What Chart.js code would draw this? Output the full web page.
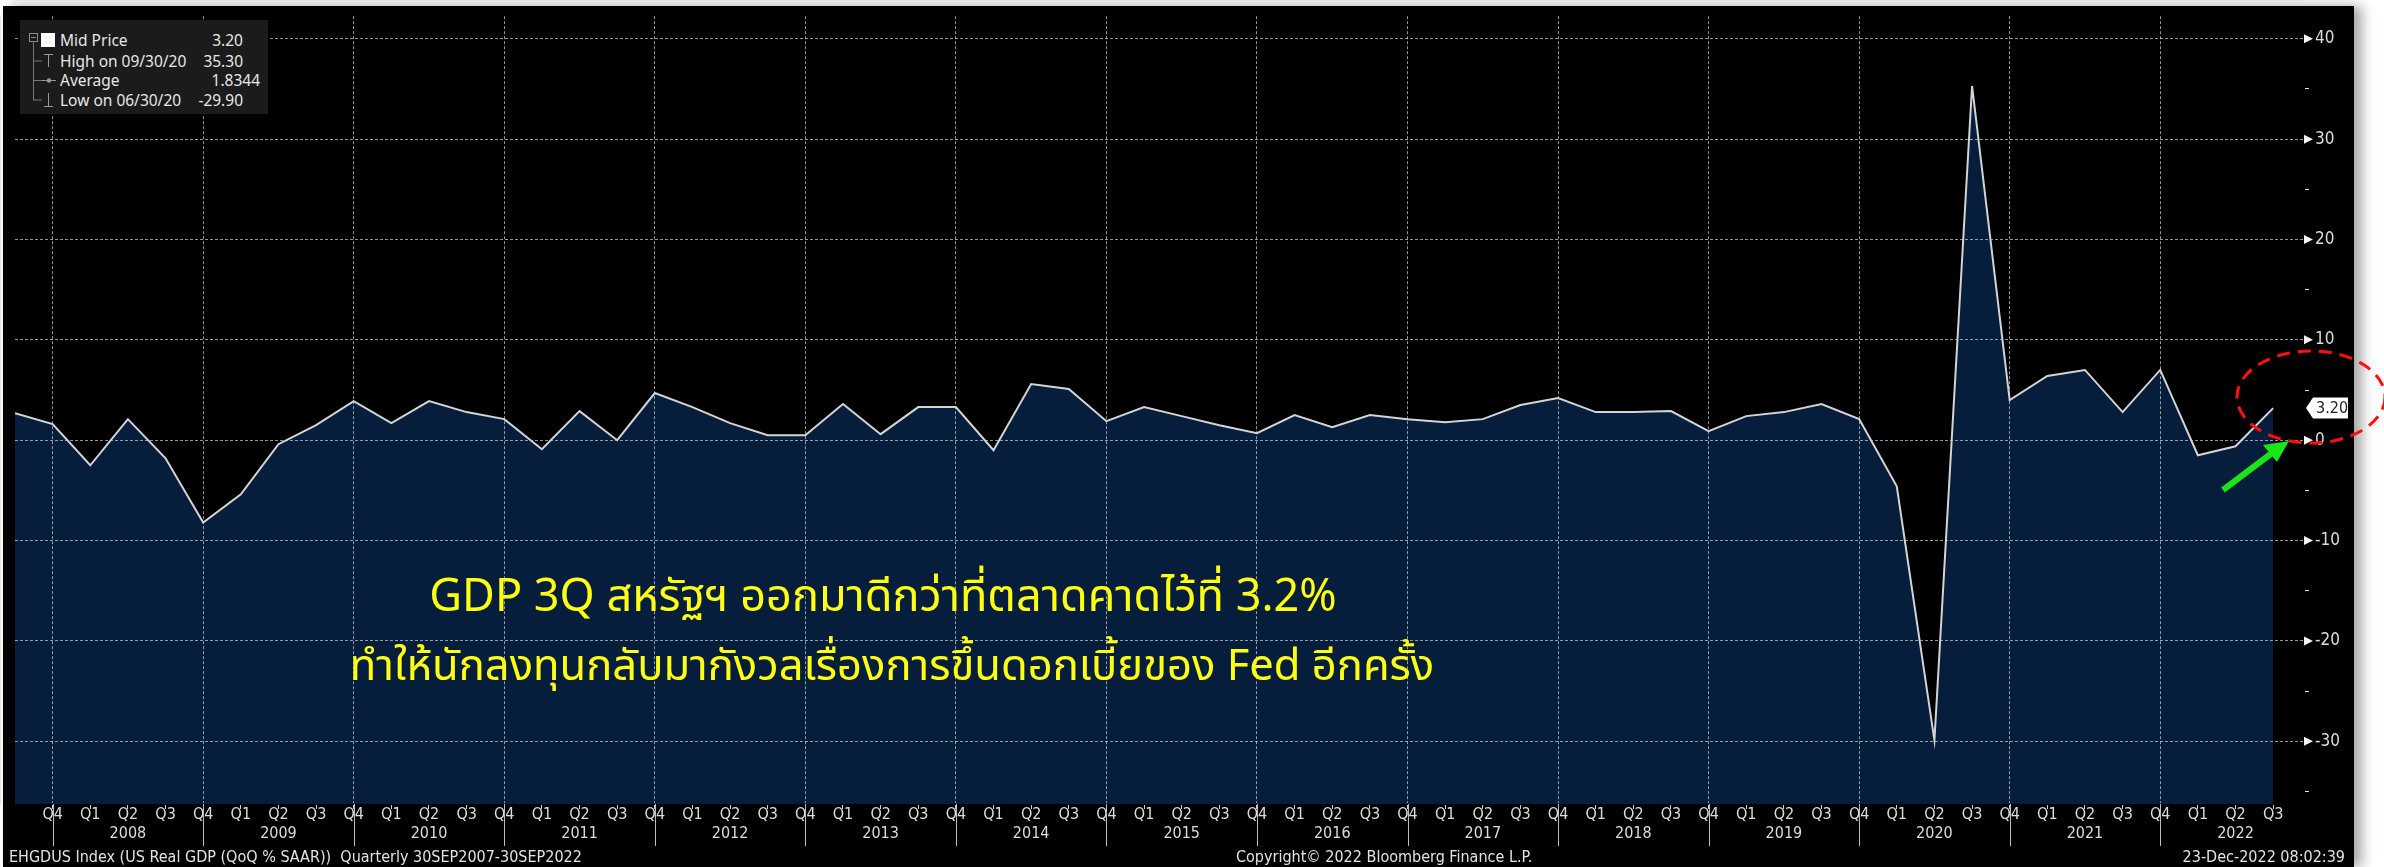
<!DOCTYPE html>
<html>
<head>
<meta charset="utf-8">
<script src="https://cdn.jsdelivr.net/npm/chart.js@4.4.0/dist/chart.umd.min.js"></script>
<style>
    html, body { margin: 0; padding: 0; width: 2384px; height: 867px; overflow: hidden; background: #fff; }
    #panel { position: absolute; left: 3px; top: 6px; width: 2351px; height: 861px; background: #000;
             box-shadow: 8px 0 12px rgba(0,0,0,0.35); }
    #c { position: absolute; left: 0; top: 0; }
    .narrow { font-family: "Liberation Sans Narrow", "DejaVu Sans Condensed", sans-serif; }
    .txt { position: absolute; white-space: pre; color: #e2e2e2; line-height: 1; }
    #legend { position: absolute; left: 20px; top: 20px; width: 248px; height: 94px; background: #1b1b1b; }
    #legend span { position: absolute; font-family: "Noto Sans", sans-serif; font-size: 15.5px; color: #e6e6e6;
                   line-height: 20px; white-space: pre; }
    .note { position: absolute; color: #ffff14; line-height: 1; white-space: pre;
            font-family: "Noto Sans Thai", "Noto Sans Thai UI", "Noto Sans", sans-serif; transform: translate(-50%, -50%); }
    #marks { position: absolute; left: 0; top: 0; }
</style>
</head>
<body>
<div id="panel"></div>
<canvas id="c" width="2384" height="867"></canvas>

<div id="legend">
    <svg width="248" height="94" style="position:absolute;left:0;top:0">
        <rect x="9.5" y="13.5" width="8" height="8" fill="none" stroke="#888" />
        <line x1="11" y1="17.5" x2="16" y2="17.5" stroke="#888" />
        <line x1="13.5" y1="22" x2="13.5" y2="80" stroke="#777" />
        <line x1="13.5" y1="41" x2="22" y2="41" stroke="#777" />
        <line x1="13.5" y1="60.5" x2="22" y2="60.5" stroke="#777" />
        <line x1="13.5" y1="80" x2="22" y2="80" stroke="#777" />
        <rect x="21" y="13" width="14" height="14" fill="#fff" />
        <line x1="24" y1="34.5" x2="33" y2="34.5" stroke="#999" />
        <line x1="28.5" y1="34.5" x2="28.5" y2="47" stroke="#999" />
        <line x1="22" y1="60.5" x2="36" y2="60.5" stroke="#999" />
        <circle cx="29" cy="60.5" r="2.2" fill="#999" />
        <line x1="28.5" y1="73" x2="28.5" y2="86" stroke="#999" />
        <line x1="24" y1="86.5" x2="33" y2="86.5" stroke="#999" />
    </svg>
    <span style="left:40px;top:10px">Mid Price</span>
    <span style="right:25px;top:10px">3.20</span>
    <span style="left:40px;top:31px">High on 09/30/20</span>
    <span style="right:25px;top:31px">35.30</span>
    <span style="left:40px;top:50px">Average</span>
    <span style="right:8px;top:50px">1.8344</span>
    <span style="left:40px;top:70px">Low on 06/30/20</span>
    <span style="right:25px;top:70px">-29.90</span>
</div>

<div class="note" style="left:883px;top:597px;font-size:45px">GDP 3Q สหรัฐฯ ออกมาดีกว่าที่ตลาดคาดไว้ที่ 3.2%</div>
<div class="note" style="left:892px;top:668px;font-size:43.5px">ทำให้นักลงทุนกลับมากังวลเรื่องการขึ้นดอกเบี้ยของ Fed อีกครั้ง</div>

<div class="txt narrow" style="left:9px;top:849px;font-size:16px">EHGDUS Index (US Real GDP (QoQ % SAAR))  Quarterly 30SEP2007-30SEP2022</div>
<div class="txt narrow" style="left:1236px;top:849px;font-size:16px">Copyright© 2022 Bloomberg Finance L.P.</div>
<div class="txt narrow" style="right:39px;top:849px;font-size:16px">23-Dec-2022 08:02:39</div>

<svg id="marks" width="2384" height="867">
    <ellipse cx="2311" cy="397" rx="74" ry="46" fill="none" stroke="#ff1010" stroke-width="3" stroke-dasharray="13 8" />
    <line x1="2223" y1="490" x2="2272" y2="453" stroke="#19e619" stroke-width="6" />
    <polygon points="2289,441 2263,445 2277,462" fill="#19e619" />
</svg>

<script>
// quarterly periods, 30SEP2007 - 30SEP2022
const periods = [
    'Q3 2007', 'Q4 2007',
    'Q1 2008', 'Q2 2008', 'Q3 2008', 'Q4 2008',
    'Q1 2009', 'Q2 2009', 'Q3 2009', 'Q4 2009',
    'Q1 2010', 'Q2 2010', 'Q3 2010', 'Q4 2010',
    'Q1 2011', 'Q2 2011', 'Q3 2011', 'Q4 2011',
    'Q1 2012', 'Q2 2012', 'Q3 2012', 'Q4 2012',
    'Q1 2013', 'Q2 2013', 'Q3 2013', 'Q4 2013',
    'Q1 2014', 'Q2 2014', 'Q3 2014', 'Q4 2014',
    'Q1 2015', 'Q2 2015', 'Q3 2015', 'Q4 2015',
    'Q1 2016', 'Q2 2016', 'Q3 2016', 'Q4 2016',
    'Q1 2017', 'Q2 2017', 'Q3 2017', 'Q4 2017',
    'Q1 2018', 'Q2 2018', 'Q3 2018', 'Q4 2018',
    'Q1 2019', 'Q2 2019', 'Q3 2019', 'Q4 2019',
    'Q1 2020', 'Q2 2020', 'Q3 2020', 'Q4 2020',
    'Q1 2021', 'Q2 2021', 'Q3 2021', 'Q4 2021',
    'Q1 2022', 'Q2 2022', 'Q3 2022'
];

// US Real GDP QoQ % SAAR
const gdpValues = [
    2.7, 1.6,
    -2.5, 2.1, -1.8, -8.2,
    -5.4, -0.4, 1.5, 3.9,
    1.7, 3.9, 2.8, 2.1,
    -0.9, 2.9, 0.0, 4.7,
    3.3, 1.7, 0.5, 0.5,
    3.6, 0.6, 3.3, 3.3,
    -1.0, 5.6, 5.1, 1.9,
    3.3, 2.4, 1.5, 0.7,
    2.5, 1.3, 2.5, 2.1,
    1.8, 2.1, 3.5, 4.2,
    2.8, 2.8, 2.9, 0.9,
    2.4, 2.8, 3.6, 2.1,
    -4.6, -29.9, 35.3, 4.0,
    6.4, 7.0, 2.8, 7.0,
    -1.5, -0.6, 3.2
];

// right axis ticks (labels every 10, small marks every 5)
const yTicks = [-35, -30, -25, -20, -15, -10, -5, 0, 5, 10, 15, 20, 25, 30, 35, 40];
const yMin = -36.25;
const yMax = 42.25;

const narrowFont = '"Liberation Sans Narrow", "DejaVu Sans Condensed", sans-serif';
const gridColor = 'rgba(205,212,220,0.7)';

function isQ4(i) { return periods[i] && periods[i].startsWith('Q4'); }

// bits of the Bloomberg axis that the library does not draw itself
const axisExtras = {
    id: 'axisExtras',
    afterDraw(chart) {
        const ctx = chart.ctx;
        const xs = chart.scales.x;
        const ys = chart.scales.y;
        const area = chart.chartArea;
        ctx.save();

        // long year separators under the Q4 ticks
        ctx.strokeStyle = '#bdbdbd';
        ctx.lineWidth = 1;
        periods.forEach((p, i) => {
            if (i === 0 || !isQ4(i)) return;
            const x = Math.round(xs.getPixelForValue(i)) + 0.5;
            ctx.beginPath();
            ctx.moveTo(x, area.bottom);
            ctx.lineTo(x, area.bottom + 42);
            ctx.stroke();
        });

        // white arrow heads on the major y ticks
        ctx.fillStyle = '#f4f4f4';
        yTicks.forEach(v => {
            if (v % 10 !== 0) return;
            const y = ys.getPixelForValue(v);
            ctx.beginPath();
            ctx.moveTo(area.right, y - 4.5);
            ctx.lineTo(area.right + 9, y);
            ctx.lineTo(area.right, y + 4.5);
            ctx.closePath();
            ctx.fill();
        });

        // last value tag
        const last = gdpValues[gdpValues.length - 1];
        const ly = ys.getPixelForValue(last);
        const lx = area.right + 2;
        ctx.beginPath();
        ctx.moveTo(lx, ly);
        ctx.lineTo(lx + 7, ly - 10.5);
        ctx.lineTo(lx + 42, ly - 10.5);
        ctx.lineTo(lx + 42, ly + 10.5);
        ctx.lineTo(lx + 7, ly + 10.5);
        ctx.closePath();
        ctx.fillStyle = '#ffffff';
        ctx.fill();
        ctx.fillStyle = '#222';
        ctx.font = '16px ' + narrowFont;
        ctx.textBaseline = 'middle';
        ctx.textAlign = 'left';
        ctx.fillText(last.toFixed(2), lx + 10, ly + 1);
        ctx.restore();
    }
};

new Chart(document.getElementById('c').getContext('2d'), {
    type: 'line',
    data: {
        datasets: [{
            label: 'Mid Price',
            data: gdpValues.map((v, i) => ({ x: i, y: v })),
            borderColor: '#d4d4d4',
            borderWidth: 2,
            backgroundColor: '#061e3c',
            fill: 'start',
            pointRadius: 0,
            tension: 0
        }]
    },
    options: {
        responsive: false,
        animation: false,
        layout: { padding: { left: 15, top: 8, right: 0, bottom: 0 } },
        plugins: { legend: { display: false }, tooltip: { enabled: false } },
        scales: {
            x: {
                type: 'linear',
                min: 0,
                max: 60.82,
                afterBuildTicks: s => { s.ticks = periods.map((p, i) => ({ value: i })).slice(1); },
                afterFit: s => { s.height = 63; },
                ticks: {
                    autoSkip: false,
                    maxRotation: 0,
                    color: '#dcdcdc',
                    padding: -3,
                    font: { family: narrowFont, size: 16, lineHeight: 1.15 },
                    callback: v => {
                        const [q, yr] = periods[v].split(' ');
                        return q === 'Q2' ? [q, yr] : q;
                    }
                },
                grid: {
                    z: 1,
                    color: c => (c.tick && isQ4(c.tick.value)) ? gridColor : 'transparent',
                    tickColor: '#d0d0d0',
                    tickLength: 5,
                    lineWidth: 1
                },
                border: { color: '#e6e6e6', width: 2, dash: [3, 2] }
            },
            y: {
                position: 'right',
                min: yMin,
                max: yMax,
                afterBuildTicks: s => { s.ticks = yTicks.map(v => ({ value: v })); },
                afterFit: s => { s.width = 80; },
                ticks: {
                    color: '#dcdcdc',
                    padding: 6,
                    font: { family: narrowFont, size: 17 },
                    callback: v => (v % 10 === 0 ? String(v) : '')
                },
                grid: {
                    z: 1,
                    color: c => (c.tick && c.tick.value % 10 === 0) ? gridColor : 'transparent',
                    tickColor: c => (c.tick && c.tick.value % 10 !== 0) ? '#e0e0e0' : 'transparent',
                    tickLength: 5,
                    lineWidth: 1
                },
                border: { color: '#e6e6e6', width: 2, dash: [3, 2] }
            }
        }
    },
    plugins: [axisExtras]
});
</script>
</body>
</html>
